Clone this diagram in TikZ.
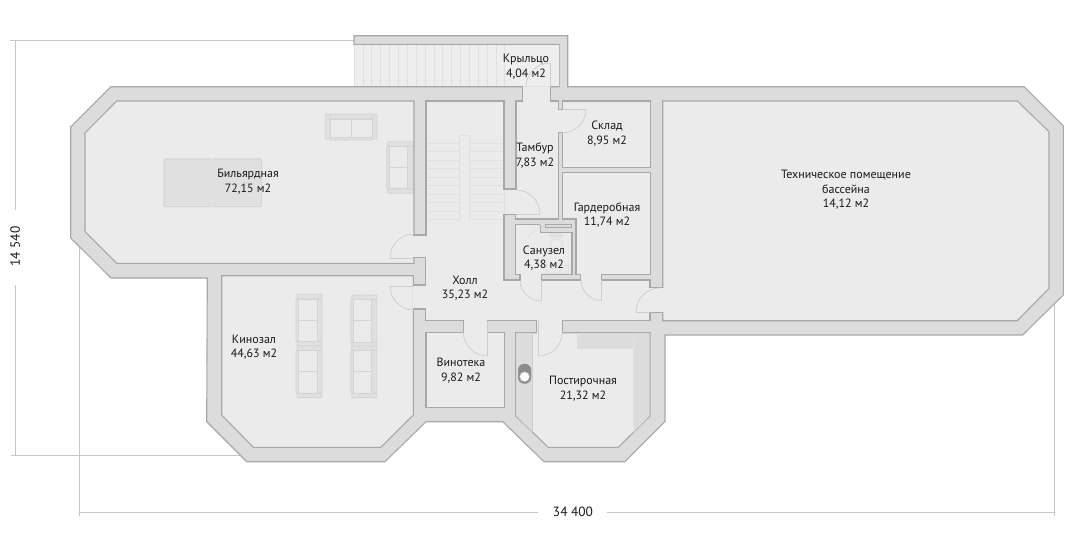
\documentclass[tikz,border=0pt]{standalone}
\usepackage{fontspec}
\setmainfont{PT Sans}

\definecolor{wallfill}{HTML}{DCDCDC}
\definecolor{wallline}{HTML}{A8A8A8}
\definecolor{roomfill}{HTML}{EBEBEB}
\definecolor{porchfill}{HTML}{EEEEEE}
\definecolor{thinline}{HTML}{E0E0E0}
\definecolor{doorline}{HTML}{CDCDCD}
\definecolor{dimline}{HTML}{C6C6C6}
\definecolor{sofaedge}{HTML}{D4D4D4}

\tikzset{
  wall/.style={fill=wallfill,draw=wallline,line width=1.1pt,line join=miter},
  room/.style={fill=roomfill,draw=wallline,line width=1.1pt,line join=miter},
  opening/.style={fill=roomfill,draw=none},
  stairline/.style={draw=thinline,line width=.8pt},
  doorswing/.style={draw=doorline,line width=.7pt},
  dimension/.style={draw=dimline,line width=.8pt},
  fixture/.style={draw=thinline,line width=.8pt},
  roomlabel/.style={align=center,inner sep=0pt,text=black!90,font=\fontsize{12}{14.4}\selectfont},
  dimlabel/.style={inner sep=0pt,text=black!90,font=\fontsize{13.4}{14.4}\selectfont},
  sofapart/.style={fill=wallfill!70!roomfill,draw=sofaedge,line width=.8pt,rounded corners=.7pt},
  sofaseat/.style={fill=roomfill!90!wallfill,draw=sofaedge,line width=.8pt}
}

\newcommand{\drawsofa}[3]{
  \begin{scope}[shift={(#1,#2)},rotate=#3]
    \draw[sofapart] (1,0) rectangle (26,4.6);
    \draw[sofapart] (1,47) rectangle (26,51.6);
    \draw[sofapart] (0,4.6) rectangle (2.6,47);
    \draw[sofapart] (21,4.6) rectangle (26,47);
    \draw[sofaseat] (2.6,4.6) rectangle (21,25.6);
    \draw[sofaseat] (2.6,25.6) rectangle (21,47);
  \end{scope}
}

\begin{document}
\begin{tikzpicture}[x=1pt,y=1pt,yscale=-1]

\useasboundingbox (0,0) rectangle (1088,536);

\draw[dimension] (10,40) -- (354,40);
\draw[dimension] (15.3,40) -- (15.3,210);
\draw[dimension] (15.3,285) -- (15.3,455);
\draw[dimension] (11,455) -- (240,455);
\draw[dimension] (79.5,245) -- (79.5,516);
\draw[dimension] (1054.3,300) -- (1054.3,516);
\draw[dimension] (79.5,512) -- (538,512);
\draw[dimension] (607,512) -- (1054.3,512);
\node[dimlabel,rotate=90] (height) at (15.3,246.5) {14 540};
\node[dimlabel] (width) at (573,512) {34 400};

\draw[wall] (111,86.7) -- (354,86.7) -- (559,86.7) -- (559,44.3) -- (354,44.3) -- (354,35.7)
  -- (567.7,35.7) -- (567.7,86.7) -- (1024,86.7) -- (1063.3,126) -- (1063.3,295) -- (1022.7,335)
  -- (665,335) -- (665,421.7) -- (625,461.7) -- (544,461.7) -- (502.7,421.7) -- (426,421.7)
  -- (385,461.7) -- (246.7,461.7) -- (206.7,421.7) -- (207.3,278) -- (111,278) -- (70.7,238)
  -- (70.7,127) -- cycle;

\fill[porchfill] (354,44.9) rectangle (558.5,86.1);
\foreach \i in {0,...,17}
  \draw[thinline,line width=.6pt] (354+8.87*\i,44.9) -- (354+8.87*\i,86.1);

\draw[room] (116.7,101) -- (414,101) -- (414,263.3) -- (116.7,263.3) -- (85,231.7) -- (85,133) -- cycle;
\draw[room] (221.7,275.7) -- (413.3,275.7) -- (413.3,415) -- (380.7,447.3) -- (253.3,447.3) -- (221.7,415) -- cycle;
\draw[room] (426,332.7) -- (504.3,332.7) -- (504.3,407.3) -- (426,407.3) -- cycle;
\draw[room] (515.7,332.7) -- (650,332.7) -- (650,416) -- (618.3,447.3) -- (548.3,447.3) -- (515.7,416) -- cycle;
\draw[room] (562.3,101) -- (650.7,101) -- (650.7,167.7) -- (562.3,167.7) -- cycle;
\draw[room] (562.3,172.7) -- (650.7,172.7) -- (650.7,274.3) -- (576,274.3) -- (576,219) -- (562.3,219) -- cycle;
\draw[room] (662.7,101) -- (1017.3,101) -- (1049,131.7) -- (1049,288.3) -- (1017.3,320.7) -- (662.7,320.7) -- cycle;
\draw[room] (515.7,224.3) -- (540.7,224.3) -- (540.7,232.7) -- (572,232.7) -- (572,274.3) -- (515.7,274.3) -- cycle;

\draw[room] (426,101) -- (504,101) -- (504,189) -- (516,189) -- (516,101) -- (522.7,101) -- (522.7,86.7)
  -- (550.7,86.7) -- (550.7,101) -- (558.3,101) -- (558.3,109.3) -- (562.5,109.3) -- (562.5,132.7)
  -- (558.3,132.7) -- (558.3,219) -- (515.7,219) -- (515.7,214.3) -- (504,214.3) -- (504,280)
  -- (520,280) -- (520,274.3) -- (541.7,274.3) -- (541.7,280) -- (580.7,280) -- (580.7,274.3)
  -- (601.7,274.3) -- (601.7,280) -- (650,280) -- (650,287.3) -- (662.7,287.3) -- (662.7,312.7)
  -- (650,312.7) -- (650,320.7) -- (562.7,320.7) -- (562.7,332.7) -- (536.7,332.7) -- (536.7,320.7)
  -- (487.3,320.7) -- (487.3,332.7) -- (463.3,332.7) -- (463.3,320.7) -- (425.7,320.7) -- (425.7,309)
  -- (413.3,309) -- (413.3,285) -- (425.7,285) -- (425.7,257.7) -- (414,257.7) -- (414,235)
  -- (426,235) -- cycle;

\fill[opening] (412.5,235.7) rectangle (415,257);
\fill[opening] (412.5,285.7) rectangle (415,308.3);
\fill[opening] (561.3,110) rectangle (563.5,132);
\fill[opening] (661.5,288) rectangle (664,312);
\fill[opening] (520.7,273) rectangle (541,275.5);
\fill[opening] (581.4,273) rectangle (601,275.5);
\fill[opening] (537.4,331.5) rectangle (562,334);
\fill[opening] (464,331.5) rectangle (486.6,334);
\fill[opening] (523.4,85.8) rectangle (550,87.8);
\draw[stairline] (523.4,86.7) -- (550,86.7);
\draw[stairline] (504,189.6) -- (504,213.7);

\foreach \i in {0,...,9} {
  \draw[stairline] (426.6,143.3+8.5*\i) -- (459.3,143.3+8.5*\i);
  \draw[stairline] (469.3,143.3+8.5*\i) -- (503.4,143.3+8.5*\i);
}
\draw[stairline] (459.3,220) -- (459.3,135) -- (469.3,135) -- (469.3,220);

\fill[wallfill] (516.3,333.3) -- (532.7,333.3) -- (532.7,432.3) -- (516.3,416) -- cycle;
\draw[doorline,line width=.7pt] (532.7,333.3) -- (532.7,432.3);
\fill[wallfill] (633.3,333.3) -- (649.4,333.3) -- (649.4,416) -- (633.3,432.5) -- cycle;
\fill[wallfill] (577.3,333.3) rectangle (633.3,349.3);
\draw[black!45,fill=black!45,rounded corners=6pt] (518.3,364) rectangle (531,383.5);
\draw[fill=white,draw=black!30,line width=.6pt] (524.6,376.7) circle (5);

\draw[wall,line width=.8pt] (545.3,224.3) rectangle (571.7,227.7);
\draw[fill=wallfill!60!roomfill,draw=none] (549.3,233.3) rectangle (563.3,238);
\draw[fixture] (556.5,245) circle (6);
\draw[fixture] (546.7,265) rectangle (568.3,273.5);
\draw[fixture] (556.5,269) circle (4);
\draw[fixture] (540.7,224.3) -- (528,236.7);

\draw[sofaedge,fill=wallfill!70!roomfill,line width=1.2pt,rounded corners=1.5pt] (164,159) rectangle (261.6,206.6);
\draw[roomfill,line width=1.2pt] (212.3,158) -- (212.3,160);
\draw[roomfill,line width=1.2pt] (212.3,205.6) -- (212.3,207.6);
\drawsofa{325.3}{140}{270}
\drawsofa{386.7}{141.7}{0}
\drawsofa{296}{294.3}{0}
\drawsofa{296}{346}{0}
\drawsofa{350.7}{295}{0}
\drawsofa{350.7}{346}{0}

\draw[doorswing] (390,258) arc[start angle=180,end angle=270,radius=24];
\draw[doorswing] (390,258) -- (414,258);
\draw[doorswing] (390,286) arc[start angle=180,end angle=90,radius=24];
\draw[doorswing] (390,286) -- (414,286);
\draw[doorswing] (516,190) arc[start angle=270,end angle=360,radius=24];
\draw[doorswing] (516,214) -- (540,214);
\draw[doorswing] (586,109.3) arc[start angle=0,end angle=90,radius=23.5];
\draw[doorswing] (562.5,109.3) -- (586,109.3);
\draw[doorswing] (526,87) arc[start angle=180,end angle=270,radius=24];
\draw[doorswing] (550,63) -- (550,87);
\draw[doorswing] (520,280) arc[start angle=180,end angle=90,radius=21];
\draw[doorswing] (541,280) -- (541,301);
\draw[doorswing] (581,280) arc[start angle=180,end angle=90,radius=20.5];
\draw[doorswing] (601.5,280) -- (601.5,300.5);
\draw[doorswing] (636,312) arc[start angle=180,end angle=270,radius=24];
\draw[doorswing] (636,312) -- (650,312);
\draw[doorswing] (463.3,332) arc[start angle=180,end angle=90,radius=24];
\draw[doorswing] (487.3,320.7) -- (487.3,356);
\draw[doorswing] (562.3,332) arc[start angle=0,end angle=90,radius=24];
\draw[doorswing] (538.3,320.7) -- (538.3,356);

\node[roomlabel] (porch) at (526,66.5) {Крыльцо\\4,04 м2};
\node[roomlabel] (store) at (607,133.7) {Склад\\8,95 м2};
\node[roomlabel] (lobby) at (535,155.7) {Тамбур\\7,83 м2};
\node[roomlabel] (billiard) at (248,181.7) {Бильярдная\\72,15 м2};
\node[roomlabel] (wardrobe) at (607,215.2) {Гардеробная\\11,74 м2};
\node[roomlabel] (pool) at (846,189.7) {Техническое помещение\\бассейна\\14,12 м2};
\node[roomlabel] (bath) at (544,258.2) {Санузел\\4,38 м2};
\node[roomlabel] (hall) at (465,288.2) {Холл\\35,23 м2};
\node[roomlabel] (cinema) at (254,347.2) {Кинозал\\44,63 м2};
\node[roomlabel] (wine) at (461,370.7) {Винотека\\9,82 м2};
\node[roomlabel] (laundry) at (583,388.7) {Постирочная\\21,32 м2};

\end{tikzpicture}
\end{document}
